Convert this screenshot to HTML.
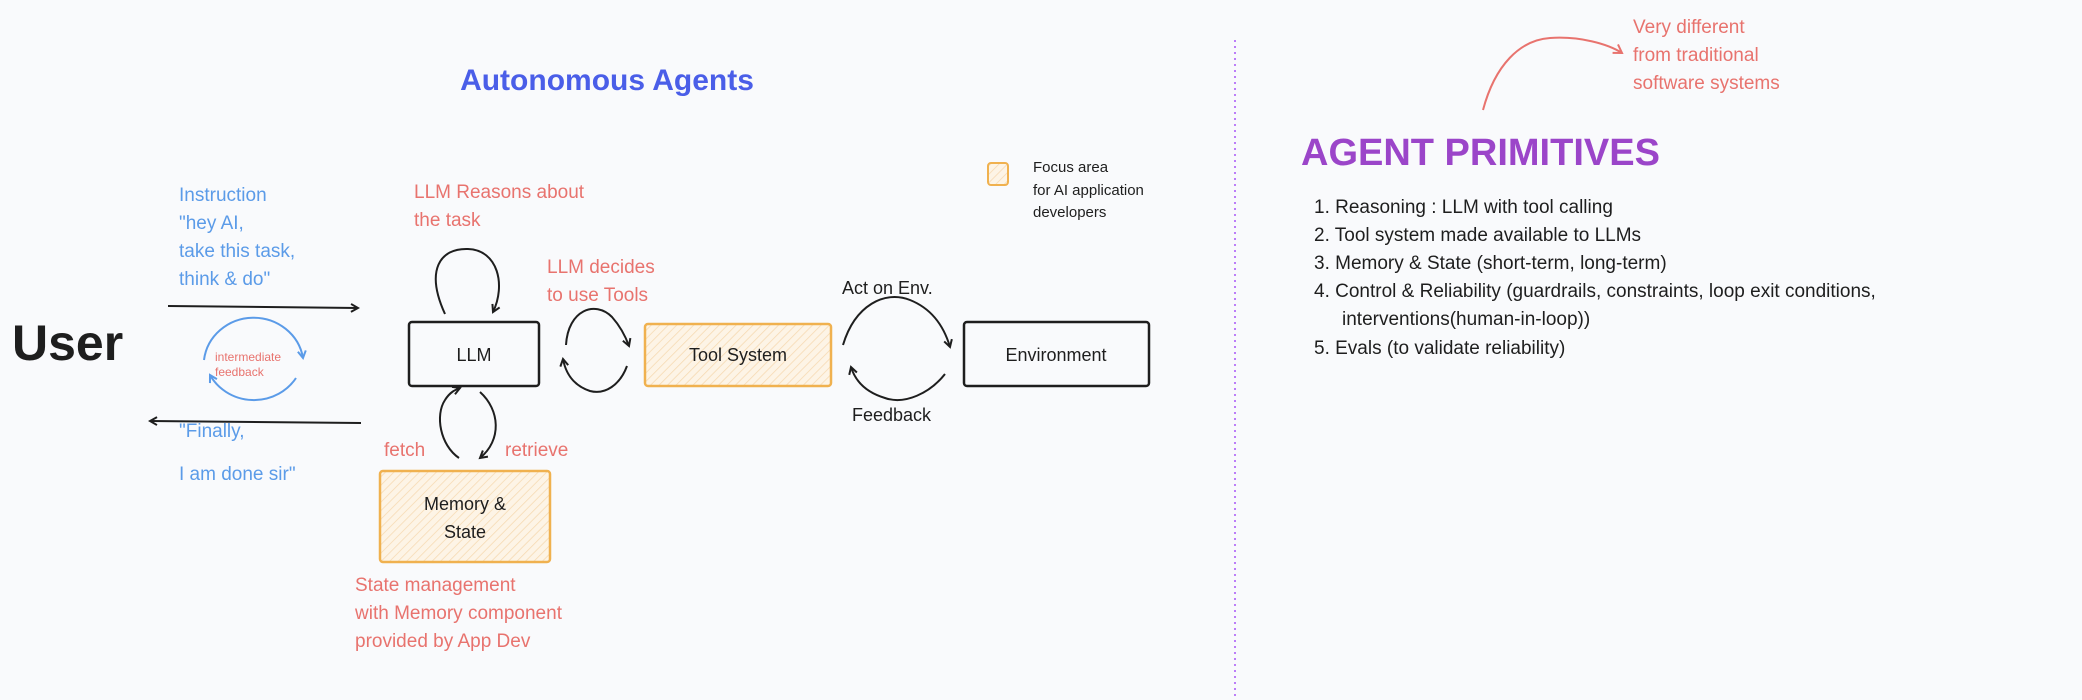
<!DOCTYPE html>
<html><head><meta charset="utf-8"><style>
html,body{margin:0;padding:0;background:#f9fafc;}
svg{display:block}
text{font-family:"Liberation Sans",sans-serif;}
</style></head><body>
<svg width="2082" height="700" viewBox="0 0 2082 700" xmlns="http://www.w3.org/2000/svg">
<defs>
<pattern id="hatch" width="6" height="6" patternUnits="userSpaceOnUse" patternTransform="rotate(45)">
<rect width="6" height="6" fill="#fdf4e6"/><line x1="0" y1="0" x2="0" y2="6" stroke="#f6d9b0" stroke-width="1.5"/>
</pattern>
<marker id="ah" markerWidth="10" markerHeight="10" refX="8" refY="5" orient="auto" markerUnits="userSpaceOnUse"><path d="M1,1 L8,5 L1,9" fill="none" stroke="#1e1e1e" stroke-width="2"/></marker>
<marker id="ahb" markerWidth="10" markerHeight="10" refX="8" refY="5" orient="auto" markerUnits="userSpaceOnUse"><path d="M1,1 L8,5 L1,9" fill="none" stroke="#5b9be8" stroke-width="2"/></marker>
<marker id="ahr" markerWidth="12" markerHeight="12" refX="9" refY="6" orient="auto" markerUnits="userSpaceOnUse"><path d="M1,1 L9,6 L1,11" fill="none" stroke="#e8736e" stroke-width="2"/></marker>
</defs>
<rect width="2082" height="700" fill="#f9fafc"/>
<line x1="1235" y1="40" x2="1235" y2="700" stroke="#a855f7" stroke-width="1.5" stroke-dasharray="2,4"/>

<text x="607" y="90" text-anchor="middle" font-size="30" font-weight="bold" fill="#4a5ee8">Autonomous Agents</text>

<text x="12" y="360" font-size="50" font-weight="bold" fill="#1e1e1e">User</text>

<g font-size="19" fill="#5b9be8">
<text x="179" y="201">Instruction</text>
<text x="179" y="229">"hey AI,</text>
<text x="179" y="257">take this task,</text>
<text x="179" y="285">think &amp; do"</text>
<text x="179" y="437">"Finally,</text>
<text x="179" y="480">I am done sir"</text>
</g>
<line x1="168" y1="306" x2="358" y2="308" stroke="#1e1e1e" stroke-width="2" marker-end="url(#ah)"/>
<line x1="361" y1="423" x2="150" y2="421" stroke="#1e1e1e" stroke-width="2" marker-end="url(#ah)"/>
<path d="M204,360 A50,48 0 0 1 303,358" fill="none" stroke="#5b9be8" stroke-width="2" marker-end="url(#ahb)"/>
<path d="M296,378 A50,48 0 0 1 210,375" fill="none" stroke="#5b9be8" stroke-width="2" marker-end="url(#ahb)"/>
<text x="215" y="361" font-size="12" fill="#e8736e">intermediate</text>
<text x="215" y="376" font-size="12" fill="#e8736e">feedback</text>

<g font-size="19" fill="#e8736e">
<text x="414" y="198">LLM Reasons about</text>
<text x="414" y="226">the task</text>
<text x="547" y="273">LLM decides</text>
<text x="547" y="301">to use Tools</text>
<text x="384" y="456">fetch</text>
<text x="505" y="456">retrieve</text>
<text x="355" y="591">State management</text>
<text x="355" y="619">with Memory component</text>
<text x="355" y="647">provided by App Dev</text>
</g>

<rect x="409" y="322" width="130" height="64" rx="3" fill="none" stroke="#1e1e1e" stroke-width="2.5"/>
<text x="474" y="361" text-anchor="middle" font-size="18" fill="#1e1e1e">LLM</text>
<rect x="645" y="324" width="186" height="62" rx="3" fill="url(#hatch)" stroke="#f0b14f" stroke-width="2.5"/>
<text x="738" y="361" text-anchor="middle" font-size="18" fill="#1e1e1e">Tool System</text>
<rect x="964" y="322" width="185" height="64" rx="3" fill="none" stroke="#1e1e1e" stroke-width="2.5"/>
<text x="1056" y="361" text-anchor="middle" font-size="18" fill="#1e1e1e">Environment</text>
<rect x="380" y="471" width="170" height="91" rx="3" fill="url(#hatch)" stroke="#f0b14f" stroke-width="2.5"/>
<text x="465" y="510" text-anchor="middle" font-size="18" fill="#1e1e1e">Memory &amp;</text>
<text x="465" y="538" text-anchor="middle" font-size="18" fill="#1e1e1e">State</text>

<path d="M445,314 C425,270 440,248 468,249 C498,250 506,285 493,312" fill="none" stroke="#1e1e1e" stroke-width="2" marker-end="url(#ah)"/>
<path d="M566,345 C568,310 595,300 612,317 C620,326 625,335 629,346" fill="none" stroke="#1e1e1e" stroke-width="2" marker-end="url(#ah)"/>
<path d="M627,366 C620,385 605,395 590,391 C575,386 566,375 563,359" fill="none" stroke="#1e1e1e" stroke-width="2" marker-end="url(#ah)"/>
<path d="M843,345 C855,305 885,290 910,300 C935,310 945,330 950,347" fill="none" stroke="#1e1e1e" stroke-width="2" marker-end="url(#ah)"/>
<path d="M945,374 C930,393 905,405 885,398 C865,392 855,380 851,367" fill="none" stroke="#1e1e1e" stroke-width="2" marker-end="url(#ah)"/>
<path d="M459,458 C440,445 435,415 445,400 C450,392 455,390 460,388" fill="none" stroke="#1e1e1e" stroke-width="2" marker-end="url(#ah)"/>
<path d="M480,392 C500,410 502,440 480,458" fill="none" stroke="#1e1e1e" stroke-width="2" marker-end="url(#ah)"/>

<text x="842" y="294" font-size="18" fill="#1e1e1e">Act on Env.</text>
<text x="852" y="421" font-size="18" fill="#1e1e1e">Feedback</text>

<rect x="988" y="163" width="20" height="22" rx="3" fill="url(#hatch)" stroke="#f0b14f" stroke-width="2"/>
<g font-size="15" fill="#1e1e1e">
<text x="1033" y="172">Focus area</text>
<text x="1033" y="195">for AI application</text>
<text x="1033" y="217">developers</text>
</g>

<path d="M1483,110 C1495,65 1520,40 1550,38 C1580,36 1608,44 1622,53" fill="none" stroke="#e8736e" stroke-width="2" marker-end="url(#ahr)"/>
<g font-size="19" fill="#e8736e">
<text x="1633" y="33">Very different</text>
<text x="1633" y="61">from traditional</text>
<text x="1633" y="89">software systems</text>
</g>

<text x="1301" y="165" font-size="38" font-weight="bold" fill="#9b45c9">AGENT PRIMITIVES</text>
<g font-size="19" fill="#1e1e1e">
<text x="1314" y="213">1. Reasoning : LLM with tool calling</text>
<text x="1314" y="241">2. Tool system made available to LLMs</text>
<text x="1314" y="269">3. Memory &amp; State (short-term, long-term)</text>
<text x="1314" y="297">4. Control &amp; Reliability (guardrails, constraints, loop exit conditions,</text>
<text x="1342" y="325">interventions(human-in-loop))</text>
<text x="1314" y="354">5. Evals (to validate reliability)</text>
</g>
</svg>
</body></html>
